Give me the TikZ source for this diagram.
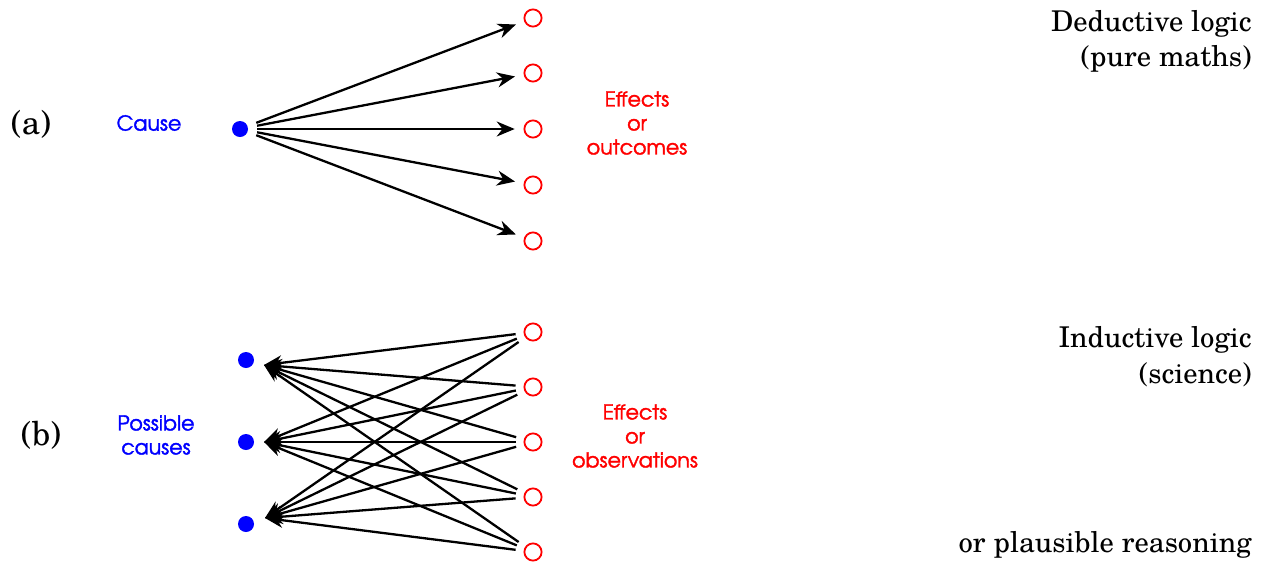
\documentclass[tikz,border=0pt]{standalone}
\usepackage{fontspec}
\setmainfont{TeX Gyre Schola}
\newfontfamily\advfont[FakeBold=1.6]{TeX Gyre Adventor}
\usetikzlibrary{arrows.meta}
\begin{document}
\begin{tikzpicture}[x=0.5pt,y=-0.5pt,
  eff/.style={circle,draw=red,line width=0.9pt,minimum size=8.6pt,inner sep=0pt},
  cau/.style={circle,fill=blue,minimum size=8pt,inner sep=0pt},
  arr/.style={line width=1.15pt,-{Stealth[length=9pt,width=7.5pt]}},
  side/.style={font=\fontsize{14.3}{17.5}\selectfont,anchor=base east,inner sep=0pt},
  lab/.style={font=\advfont\fontsize{10.3}{12}\selectfont,align=center,inner sep=0pt},
  tag/.style={font=\fontsize{16.5}{19}\selectfont,inner sep=0pt}]
\useasboundingbox (0,0) rectangle (1263,563);

% ---------- (a) ----------
\node[tag] (ta) at (31,124) {(a)};
\node[lab,text=blue] (cause) at (149,123) {Cause};
\node[cau] (c) at (240,129) {};
\foreach \i/\y in {1/18,2/73,3/129,4/185,5/241}
  \node[eff] (e\i) at (533,\y) {};
\node[lab,text=red] (efa) at (637,123) {Effects\\or\\outcomes};
\foreach \i in {1,...,5}
  \draw[arr,shorten <=4.5pt,shorten >=4.4pt] (c) -- (e\i);

% ---------- (b) ----------
\node[tag] (tb) at (41,435) {(b)};
\node[lab,text=blue] (pc) at (156,435) {Possible\\causes};
\foreach \i/\y in {1/360,2/442,3/524}
  \node[cau] (d\i) at (246,\y) {};
\coordinate (p1) at (264,365);
\coordinate (p2) at (264,442);
\coordinate (p3) at (265,518);
\foreach \i/\y in {1/332,2/387,3/442,4/497,5/552}
  \node[eff] (f\i) at (533,\y) {};
\node[lab,text=red] (efb) at (635,436) {Effects\\or\\observations};
\foreach \j in {1,...,5}
  \foreach \k in {1,2,3}
    \draw[arr,shorten <=4pt] (f\j) -- (p\k);

% ---------- right-hand texts ----------
\node[side] (ded1) at (1252,31) {Deductive logic};
\node[side] (ded2) at (1252,66) {(pure maths)};
\node[side] (ind1) at (1252,347) {Inductive logic};
\node[side] (ind2) at (1252,383) {(science)};
\node[side] (ind3) at (1252,552) {or plausible reasoning};
\end{tikzpicture}
\end{document}
